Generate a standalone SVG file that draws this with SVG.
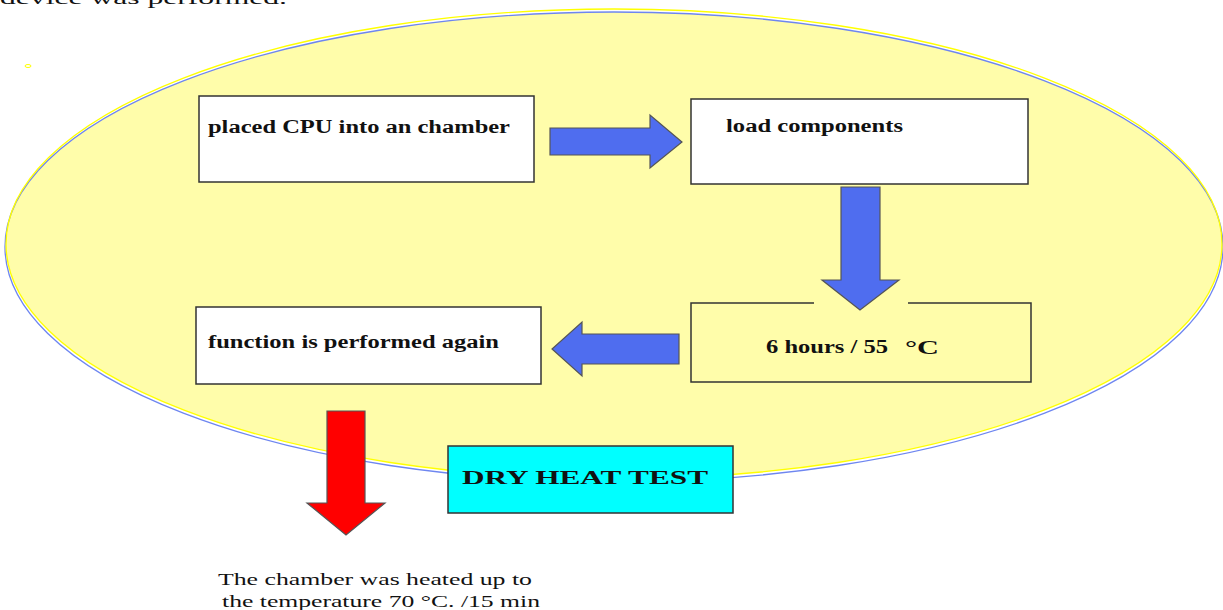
<svg xmlns="http://www.w3.org/2000/svg" width="1223" height="610" viewBox="0 0 1223 610">
<style>
.box{fill:#ffffff;stroke:#333333;stroke-width:1.5}
.lbl{font-family:"Liberation Serif","Times New Roman",serif;font-weight:bold;font-size:18.5px;fill:#111111}
.plain{font-family:"Liberation Serif","Times New Roman",serif;font-size:17px;fill:#111111}
.blueArrow{fill:#4f6def;stroke:#555555;stroke-width:1.2;stroke-linejoin:miter}
.redArrow{fill:#ff0000;stroke:#555555;stroke-width:1.2}
</style>
<defs>
<clipPath id="yclip"><ellipse cx="614" cy="244" rx="608" ry="235"/></clipPath>
</defs>
<rect width="1223" height="610" fill="#ffffff"/>
<text class="plain" x="0" y="4" font-size="21" textLength="287" lengthAdjust="spacingAndGlyphs">device was performed.</text>
<g id="background-ellipse">
<ellipse cx="614" cy="247" rx="609" ry="235" fill="#fffdaa" clip-path="url(#yclip)"/>
<ellipse cx="614" cy="247" rx="609" ry="235" fill="none" stroke="#6e86f0" stroke-width="1.3"/>
<ellipse cx="614" cy="244" rx="608" ry="235" fill="none" stroke="#ffff00" stroke-width="1.3"/>
<ellipse cx="28" cy="66" rx="3" ry="1.5" fill="none" stroke="#ffff00" stroke-width="1"/>
</g>
<g id="node-placed">
<rect class="box" x="199" y="96" width="335" height="86"/>
<text class="lbl" x="208" y="133" textLength="302" lengthAdjust="spacingAndGlyphs">placed CPU into an chamber</text>
</g>
<g id="node-load">
<rect class="box" x="691" y="99" width="337" height="85"/>
<text class="lbl" x="726" y="132" textLength="177" lengthAdjust="spacingAndGlyphs">load components</text>
</g>
<g id="node-hours">
<path d="M814,303 H691 V382 H1031 V303 H908" fill="none" stroke="#333333" stroke-width="1.5"/>
<text class="lbl" x="766" y="353" textLength="122" lengthAdjust="spacingAndGlyphs">6 hours / 55</text>
<text class="lbl" x="905" y="354" font-size="22" textLength="34" lengthAdjust="spacingAndGlyphs">°C</text>
</g>
<g id="node-function">
<rect class="box" x="196" y="307" width="345" height="77"/>
<text class="lbl" x="208" y="348" textLength="291" lengthAdjust="spacingAndGlyphs">function is performed again</text>
</g>
<g id="connectors">
<polygon class="blueArrow" points="550,128 650,128 650,115 682,142 650,168 650,155 550,155"/>
<polygon class="blueArrow" points="841,187 880,187 880,280 899,280 860,310 822,280 841,280"/>
<polygon class="blueArrow" points="679,334 582,334 582,322 552,349 582,376 582,364 679,364"/>
<polygon class="redArrow" points="327,411 365,411 365,503 385,503 346,535 307,503 327,503"/>
</g>
<g id="node-dryheat">
<rect x="448" y="446" width="285" height="67" fill="#00ffff" stroke="#333333" stroke-width="1.5"/>
<text class="lbl" x="462" y="484" font-size="21" textLength="246" lengthAdjust="spacingAndGlyphs">DRY HEAT TEST</text>
</g>
<g id="caption">
<text class="plain" x="218" y="585" font-size="19" textLength="314" lengthAdjust="spacingAndGlyphs">The chamber was heated up to</text>
<text class="plain" x="222" y="607" font-size="19" textLength="318" lengthAdjust="spacingAndGlyphs">the temperature 70 °C.  /15 min</text>
</g>
</svg>
